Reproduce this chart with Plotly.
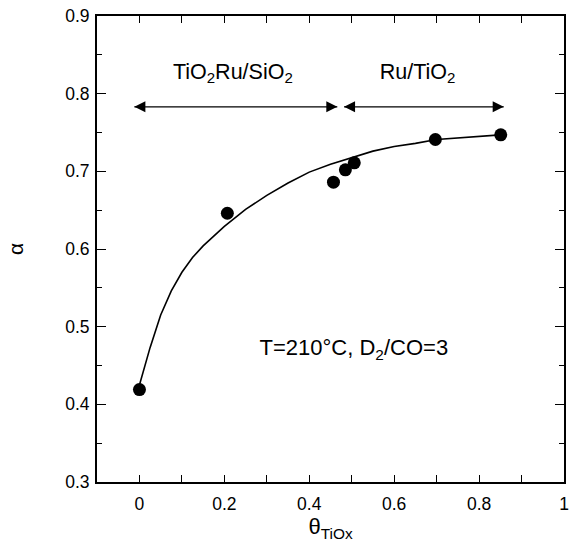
import plotly.graph_objects as go

# measured data points
theta = [0.0, 0.207, 0.457, 0.485, 0.506, 0.697, 0.851]
alpha = [0.419, 0.646, 0.686, 0.702, 0.711, 0.741, 0.747]

# fitted curve
curve_x = [0.0, 0.0125, 0.025, 0.05, 0.075, 0.1, 0.125, 0.15, 0.175, 0.2, 0.25, 0.3,
           0.35, 0.4, 0.45, 0.5, 0.55, 0.6, 0.65, 0.7, 0.75, 0.8, 0.85]
curve_y = [0.425, 0.450, 0.473, 0.515, 0.546, 0.570, 0.589, 0.604, 0.617, 0.629,
           0.651, 0.669, 0.685, 0.699, 0.709, 0.718, 0.726, 0.732, 0.736, 0.741,
           0.743, 0.745, 0.747]

# axis ranges
x_range = [-0.1, 1.0]
y_range = [0.3, 0.9]

# region arrows: x of both tips, shared y
arrow1_x = [-0.012, 0.466]
arrow2_x = [0.482, 0.858]
arrow_y = 0.783

# text labels
region_labels = ["TiO<sub>2</sub>Ru/SiO<sub>2</sub>", "Ru/TiO<sub>2</sub>"]
region_label_x = [0.22, 0.655]
region_label_y = [0.826, 0.826]
cond_label = ["T=210°C, D<sub>2</sub>/CO=3"]
cond_x = [0.505]
cond_y = [0.47]

FONT = "Liberation Sans, Arial, sans-serif"

fig = go.Figure()
fig.add_trace(go.Scatter(x=curve_x, y=curve_y, mode="lines",
                         line=dict(color="black", width=1.6), hoverinfo="skip"))
fig.add_trace(go.Scatter(x=theta, y=alpha, mode="markers",
                         marker=dict(color="black", size=13, line=dict(width=0))))

for ax_x in (arrow1_x, arrow2_x):
    fig.add_trace(go.Scatter(x=ax_x, y=[arrow_y, arrow_y], mode="lines+markers",
                             line=dict(color="black", width=1.1),
                             marker=dict(symbol=["arrow-left", "arrow-right"], size=11,
                                         color="black", line=dict(width=0)),
                             hoverinfo="skip"))

fig.add_trace(go.Scatter(x=region_label_x, y=region_label_y, mode="text",
                         text=region_labels,
                         textfont=dict(family=FONT, size=21.5, color="black")))
fig.add_trace(go.Scatter(x=cond_x, y=cond_y, mode="text", text=cond_label,
                         textfont=dict(family=FONT, size=22, color="black")))

axis_common = dict(showgrid=False, zeroline=False, showline=True, linecolor="black",
                   linewidth=2, mirror="allticks", ticks="inside", tickcolor="black",
                   tickwidth=1, layer="above traces",
                   tickfont=dict(family=FONT, size=17.5, color="black"))

fig.update_xaxes(range=x_range, tick0=0, dtick=0.2, ticklen=7, ticklabelstandoff=5,
                 minor=dict(dtick=0.1, ticks="inside", ticklen=7, tickcolor="black"),
                 title=dict(text="θ<sub>TiOx</sub>", font=dict(family=FONT, size=22),
                            standoff=6),
                 **axis_common)
fig.update_yaxes(range=y_range, tick0=0.3, dtick=0.1, ticklen=9, ticklabelstandoff=2,
                 minor=dict(dtick=0.05, ticks="inside", ticklen=5, tickcolor="black"),
                 title=dict(text="α", font=dict(family=FONT, size=21), standoff=36),
                 **axis_common)

fig.update_layout(width=575, height=552, margin=dict(l=97, r=6, t=15, b=70),
                  plot_bgcolor="white", paper_bgcolor="white", showlegend=False,
                  font=dict(family=FONT, color="black"))

fig.write_html("out.html")
